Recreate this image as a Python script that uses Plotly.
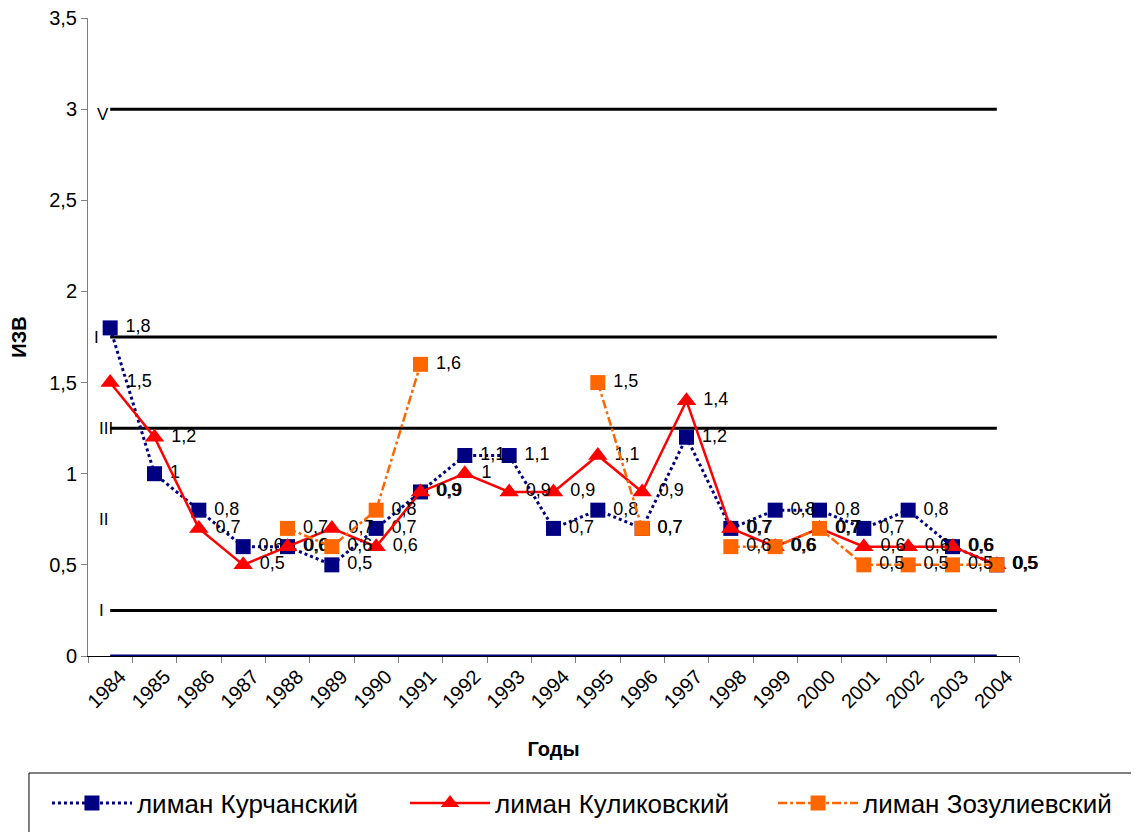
import plotly.graph_objects as go

years = ["1984", "1985", "1986", "1987", "1988", "1989", "1990", "1991", "1992", "1993",
         "1994", "1995", "1996", "1997", "1998", "1999", "2000", "2001", "2002", "2003", "2004"]

kurchansky = [1.8, 1.0, 0.8, 0.6, 0.6, 0.5, 0.7, 0.9, 1.1, 1.1,
              0.7, 0.8, 0.7, 1.2, 0.7, 0.8, 0.8, 0.7, 0.8, 0.6, 0.5]
kulikovsky = [1.5, 1.2, 0.7, 0.5, 0.6, 0.7, 0.6, 0.9, 1.0, 0.9,
              0.9, 1.1, 0.9, 1.4, 0.7, 0.6, 0.7, 0.6, 0.6, 0.6, 0.5]
zozulievsky = [None, None, None, None, 0.7, 0.6, 0.8, 1.6, None, None,
               None, 1.5, 0.7, None, 0.6, 0.6, 0.7, 0.5, 0.5, 0.5, 0.5]

class_bounds = [0.0, 0.25, 1.25, 1.75, 3.0]
class_labels = ["I", "II", "III", "I", "V"]
class_label_y = [0.25, 0.75, 1.25, 1.75, 2.97]
class_label_dx = [-9, -7, -4, -14, -7]

FONT = "Liberation Sans, Arial, sans-serif"


def fmt(v):
    if v is None:
        return ""
    return "\u00a0" + ("%g" % v).replace(".", ",")


fig = go.Figure()

# class boundary lines
for v in class_bounds:
    fig.add_trace(go.Scatter(
        x=[years[0], years[-1]], y=[v, v], mode="lines",
        line=dict(color="#000080" if v == 0 else "black", width=3),
        showlegend=False, hoverinfo="skip", cliponaxis=False))

fig.add_trace(go.Scatter(
    x=years, y=kurchansky, name="лиман Курчанский", mode="lines+markers+text",
    line=dict(color="#000080", width=3, dash="dot"),
    marker=dict(symbol="square", size=15, color="#000080"),
    text=[fmt(v) for v in kurchansky], textposition="middle right",
    textfont=dict(size=18, color="black", family=FONT), cliponaxis=False,
    legend="legend"))

fig.add_trace(go.Scatter(
    x=years, y=kulikovsky, name="лиман Куликовский", mode="lines+markers+text",
    line=dict(color="#FF0000", width=2.5),
    marker=dict(symbol="triangle-up", size=17, color="#FF0000"),
    text=[fmt(v) for v in kulikovsky], textposition="middle right",
    textfont=dict(size=18, color="black", family=FONT), cliponaxis=False,
    legend="legend2"))

fig.add_trace(go.Scatter(
    x=years, y=zozulievsky, name="лиман Зозулиевский", mode="lines+markers+text",
    line=dict(color="#FF6600", width=2.5, dash="dashdot"),
    marker=dict(symbol="square", size=15, color="#FF6600"),
    text=[fmt(v) for v in zozulievsky], textposition="middle right",
    textfont=dict(size=18, color="black", family=FONT), connectgaps=False,
    cliponaxis=False, legend="legend3"))

for lab, yv, dx in zip(class_labels, class_label_y, class_label_dx):
    fig.add_annotation(x=0, y=yv, xref="x", yref="y", text=lab, showarrow=False,
                       xshift=dx, font=dict(size=17, color="black", family=FONT))

# legend frame
fig.add_shape(type="rect", xref="paper", yref="paper",
              x0=-0.0634, x1=1.1257, y0=-0.1834, y1=-0.29,
              line=dict(color="black", width=1), fillcolor="rgba(0,0,0,0)")


def legend_style(xpos):
    return dict(orientation="h", xref="container", yref="container",
                x=xpos, y=0.0445, xanchor="left", yanchor="middle",
                itemwidth=80, font=dict(size=26, family=FONT),
                bgcolor="rgba(0,0,0,0)", borderwidth=0)


fig.update_layout(
    width=1139, height=832,
    margin=dict(l=80, r=128, t=10, b=184, autoexpand=False),
    paper_bgcolor="white", plot_bgcolor="white",
    separators=", ",
    font=dict(family=FONT, size=20, color="black"),
    showlegend=True,
    legend=legend_style(0.0342),
    legend2=legend_style(0.3486),
    legend3=legend_style(0.6717),
    xaxis=dict(type="category", categoryorder="array", categoryarray=years,
               range=[-0.5, len(years) - 0.5], autorange=False,
               showline=True, linecolor="black", linewidth=1,
               ticks="outside", tickson="boundaries", ticklen=6, tickcolor="#808080",
               tickangle=-45, tickfont=dict(size=20), ticklabelshift=10,
               showgrid=False, zeroline=False,
               title=dict(text="Годы", font=dict(size=20, weight="bold"), standoff=30)),
    yaxis=dict(range=[0, 3.5], autorange=False, tickvals=[0, 0.5, 1, 1.5, 2, 2.5, 3, 3.5],
               showline=True, linecolor="#808080", linewidth=1,
               ticks="outside", ticklen=6, tickcolor="#808080",
               tickfont=dict(size=20), ticklabeloverflow="allow",
               showgrid=False, zeroline=False,
               title=dict(text="ИЗВ", font=dict(size=20, weight="bold"), standoff=18)),
)

fig.write_html("out.html")
